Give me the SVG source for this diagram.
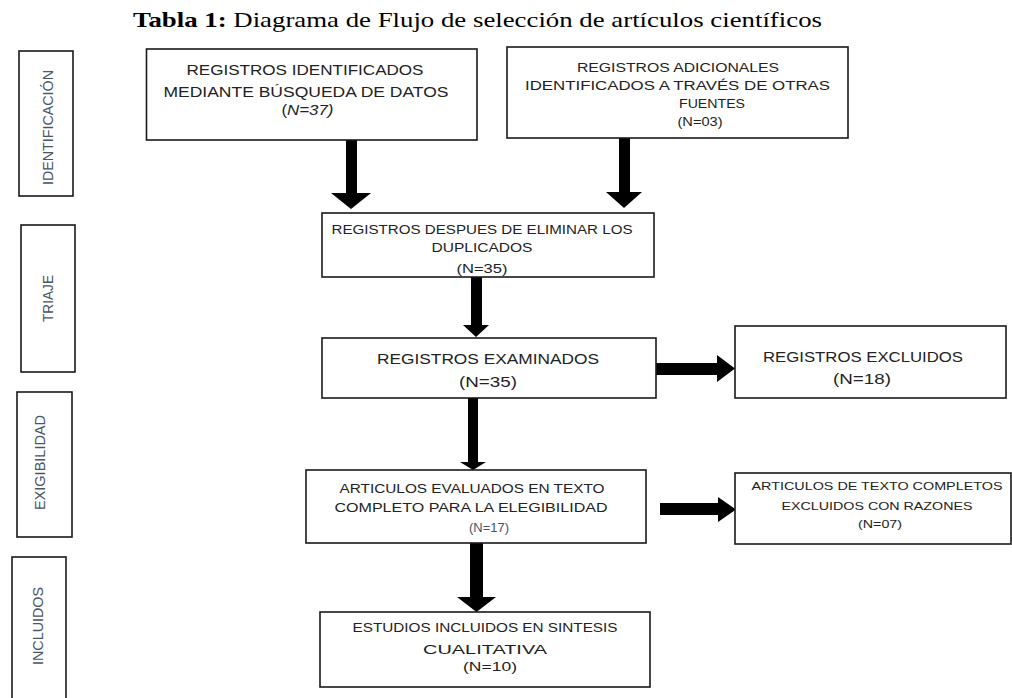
<svg xmlns="http://www.w3.org/2000/svg" width="1012" height="698" viewBox="0 0 1012 698">
<style>
.box{fill:#fff;stroke:#1a1a1a;stroke-width:1.6}
.t{font-family:"Liberation Sans",Arial,sans-serif;fill:#222;text-anchor:middle}
.side{font-family:"Liberation Sans",Arial,sans-serif;fill:#4a5568;text-anchor:middle;font-size:15px}
.arr{fill:#000}
.title{font-family:"Liberation Serif","Times New Roman",serif;font-size:21px;fill:#000}
</style>
<rect width="1012" height="698" fill="#fff"/>
<text class="title" x="133" y="27" textLength="689" lengthAdjust="spacingAndGlyphs"><tspan font-weight="bold">Tabla 1:</tspan> Diagrama de Flujo de selección de artículos científicos</text>

<g id="stage-identificacion"><rect class="box" x="19" y="51" width="54" height="145"/><text class="side" transform="translate(53,127.5) rotate(-90)" textLength="115" lengthAdjust="spacingAndGlyphs">IDENTIFICACIÓN</text></g>
<g id="stage-triaje"><rect class="box" x="21" y="225" width="54" height="147"/><text class="side" transform="translate(53,298.5) rotate(-90)" textLength="47" lengthAdjust="spacingAndGlyphs">TRIAJE</text></g>
<g id="stage-exigibilidad"><rect class="box" x="17" y="392" width="55" height="145"/><text class="side" transform="translate(45,462.5) rotate(-90)" textLength="95" lengthAdjust="spacingAndGlyphs">EXIGIBILIDAD</text></g>
<g id="stage-incluidos"><rect class="box" x="12" y="557" width="54" height="150"/><text class="side" transform="translate(43,626) rotate(-90)" textLength="78" lengthAdjust="spacingAndGlyphs">INCLUIDOS</text></g>

<g id="connectors">
<polygon class="arr" points="346,140 357,140 357,193 371,193 351,209 331,193 346,193"/>
<polygon class="arr" points="619,138 630,138 630,192 642,192 624,208 606,192 619,192"/>
<polygon class="arr" points="471,277 482,277 482,325 489,325 476,337 463,325 471,325"/>
<polygon class="arr" points="468,398 478,398 478,462 486,462 473,470 460,462 468,462"/>
<polygon class="arr" points="656,363 717,363 717,355 735,368.5 717,382 717,375 656,375"/>
<polygon class="arr" points="660,503 718,503 718,497 736,509.5 718,522 718,515 660,515"/>
<polygon class="arr" points="470,543 483,543 483,597 496,597 476.5,612 457,597 470,597"/>
</g>

<g id="n1"><rect class="box" x="146.5" y="49" width="330.5" height="91"/>
<text class="t" font-size="14" x="305" y="75" textLength="237" lengthAdjust="spacingAndGlyphs">REGISTROS IDENTIFICADOS</text>
<text class="t" font-size="14" x="306" y="97" textLength="285" lengthAdjust="spacingAndGlyphs">MEDIANTE BÚSQUEDA DE DATOS</text>
<text class="t" font-size="14" x="307.5" y="115" textLength="52" lengthAdjust="spacingAndGlyphs">(<tspan font-style="italic">N=37)</tspan></text></g>

<g id="n2"><rect class="box" x="507" y="47" width="341" height="91"/>
<text class="t" font-size="12" x="678" y="72" textLength="202" lengthAdjust="spacingAndGlyphs">REGISTROS ADICIONALES</text>
<text class="t" font-size="12" x="677.5" y="90" textLength="305" lengthAdjust="spacingAndGlyphs">IDENTIFICADOS A TRAVÉS DE OTRAS</text>
<text class="t" font-size="12" x="712" y="108" textLength="66" lengthAdjust="spacingAndGlyphs">FUENTES</text>
<text class="t" font-size="12" x="700" y="126" textLength="45" lengthAdjust="spacingAndGlyphs">(N=03)</text></g>

<g id="n3"><rect class="box" x="322" y="213" width="332" height="64"/>
<text class="t" font-size="12.5" x="482" y="234" textLength="301" lengthAdjust="spacingAndGlyphs">REGISTROS DESPUES DE ELIMINAR LOS</text>
<text class="t" font-size="12.5" x="482" y="252" textLength="101" lengthAdjust="spacingAndGlyphs">DUPLICADOS</text>
<text class="t" font-size="12.5" x="482" y="273" textLength="51" lengthAdjust="spacingAndGlyphs">(N=35)</text></g>

<g id="n4"><rect class="box" x="322" y="338" width="334" height="60"/>
<text class="t" font-size="14" x="488" y="364" textLength="222" lengthAdjust="spacingAndGlyphs">REGISTROS EXAMINADOS</text>
<text class="t" font-size="14" x="488" y="387" textLength="58" lengthAdjust="spacingAndGlyphs">(N=35)</text></g>

<g id="n5"><rect class="box" x="735" y="326" width="271" height="72"/>
<text class="t" font-size="14" x="863" y="362" textLength="200" lengthAdjust="spacingAndGlyphs">REGISTROS EXCLUIDOS</text>
<text class="t" font-size="14" x="862" y="384" textLength="58" lengthAdjust="spacingAndGlyphs">(N=18)</text></g>

<g id="n6"><rect class="box" x="306" y="470" width="340" height="73"/>
<text class="t" font-size="12.5" x="472" y="493" textLength="265" lengthAdjust="spacingAndGlyphs">ARTICULOS EVALUADOS EN TEXTO</text>
<text class="t" font-size="12.5" x="471" y="512" textLength="273" lengthAdjust="spacingAndGlyphs">COMPLETO PARA LA ELEGIBILIDAD</text>
<text class="t" font-size="13" x="489" y="532" style="fill:#44546a" textLength="40" lengthAdjust="spacingAndGlyphs">(N=17)</text></g>

<g id="n7"><rect class="box" x="735" y="473" width="276" height="71"/>
<text class="t" font-size="10.5" x="877" y="490" textLength="251" lengthAdjust="spacingAndGlyphs">ARTICULOS DE TEXTO COMPLETOS</text>
<text class="t" font-size="10.5" x="877" y="510" textLength="191" lengthAdjust="spacingAndGlyphs">EXCLUIDOS CON RAZONES</text>
<text class="t" font-size="11" x="880" y="528" textLength="44" lengthAdjust="spacingAndGlyphs">(N=07)</text></g>

<g id="n8"><rect class="box" x="320" y="612" width="330" height="75"/>
<text class="t" font-size="13" x="485" y="632" textLength="265" lengthAdjust="spacingAndGlyphs">ESTUDIOS INCLUIDOS EN SINTESIS</text>
<text class="t" font-size="13" x="485" y="654" textLength="124" lengthAdjust="spacingAndGlyphs">CUALITATIVA</text>
<text class="t" font-size="13" x="490" y="671" textLength="54" lengthAdjust="spacingAndGlyphs">(N=10)</text></g>
</svg>
